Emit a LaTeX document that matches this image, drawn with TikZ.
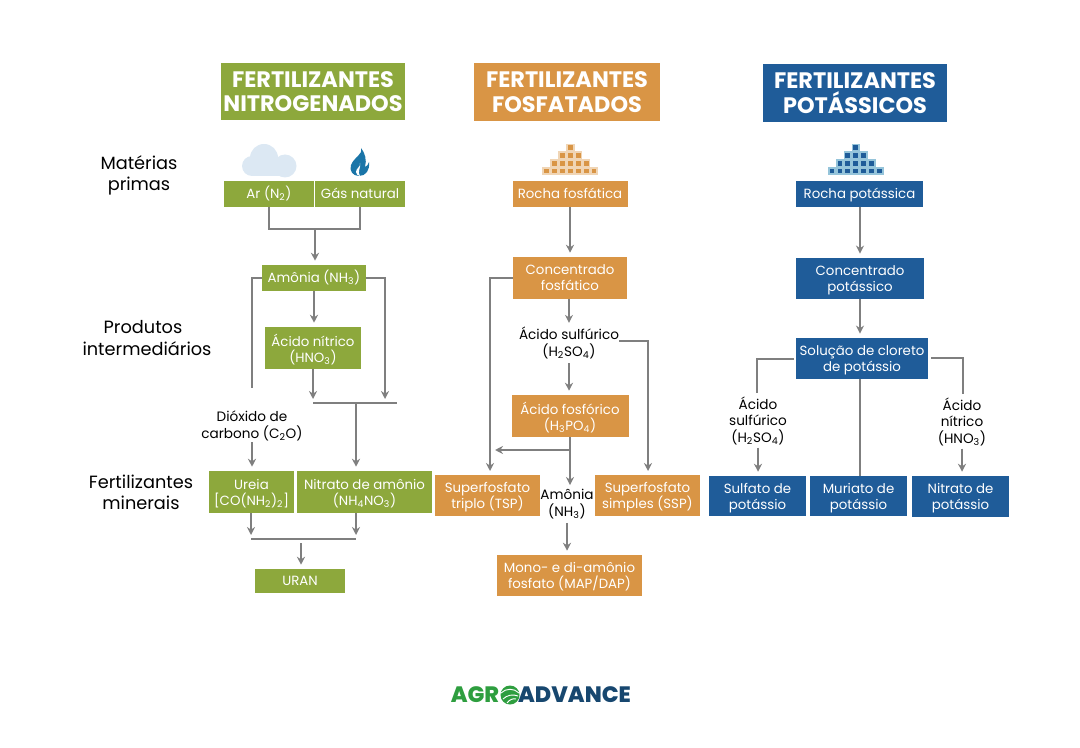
\documentclass[tikz,border=0pt]{standalone}
\usepackage{fontspec}
\setmainfont{Poppins}
\newfontfamily\logofont{Poppins ExtraBold}
\usetikzlibrary{arrows.meta}
\definecolor{verde}{HTML}{8DA83C}
\definecolor{laranja}{HTML}{D99545}
\definecolor{azul}{HTML}{1F5C99}
\definecolor{cinza}{HTML}{7F7F7F}
\definecolor{nuvem}{HTML}{DCE8F3}
\definecolor{logoverde}{HTML}{2E9E3F}
\definecolor{logoazul}{HTML}{17476F}
\newcommand{\low}[1]{\textsubscript{#1}}
\tikzset{
    caixa/.style={rectangle, inner sep=0pt, text=white, align=center, font=\fontsize{10}{12}\selectfont},
    simples/.style={caixa, text height=8.5pt, text depth=2pt},
    dupla/.style={caixa, text depth=0pt},
    titulo/.style={caixa, font=\fontsize{16.8}{18.4}\selectfont\bfseries},
    texto/.style={inner sep=0pt, align=center, text=black, font=\fontsize{10.2}{12.4}\selectfont},
    rotulo/.style={inner sep=0pt, align=center, text=black, font=\fontsize{13.3}{16}\selectfont},
    linha/.style={cinza, line width=1.25pt},
    seta/.style={linha, -{Stealth[length=6pt,width=6pt]}, shorten >=3pt}
}
\newcommand{\pilha}[3]{
    \foreach \r/\m in {0/3,1/2,2/1,3/0}
        \foreach \i in {-\m,...,\m} {
            \fill[#2] ({#1+7.9*\i-4.2},{171-7.7*\r-4.2}) rectangle ({#1+7.9*\i+4.2},{171-7.7*\r+4.2});
        }
    \foreach \r/\m in {0/3,1/2,2/1,3/0}
        \foreach \i in {-\m,...,\m} {
            \fill[#3] ({#1+7.9*\i-2.4},{171-7.7*\r-2.4}) rectangle ({#1+7.9*\i+2.4},{171-7.7*\r+2.4});
        }
}
\begin{document}
\begin{tikzpicture}[x=0.75pt,y=-0.75pt]
    \useasboundingbox (0,0) rectangle (1080,748);

    % titulos
    \node[titulo, fill=verde, minimum width=138pt, minimum height=43pt] (tituloN) at (313,91.5) {FERTILIZANTES\\NITROGENADOS};
    \node[titulo, fill=laranja, minimum width=139.5pt, minimum height=43.5pt] (tituloP) at (567,92) {FERTILIZANTES\\FOSFATADOS};
    \node[titulo, fill=azul, minimum width=138pt, minimum height=43.5pt] (tituloK) at (855,93) {FERTILIZANTES\\POTÁSSICOS};

    % rotulos
    \node[rotulo] (materias) at (139,175.5) {Matérias\\primas};
    \node[rotulo] (produtos) at (147,338) {Produtos\hspace*{6pt}\\intermediários};
    \node[rotulo] (minerais) at (141,492) {Fertilizantes\\minerais};

    % icones
    \fill[nuvem] (264,158) circle (14);
    \fill[nuvem] (252,166) circle (10);
    \fill[nuvem] (285,166) circle (11.5);
    \fill[nuvem] (252,165) rectangle (285,176.5);
    \fill[azul!85!cyan] (361,148) .. controls (363,155) and (354,157) .. (351,165) .. controls (349,171) and (353,176) .. (359,176) .. controls (366,176) and (370,170) .. (369,162) .. controls (368,165) and (367,166) .. (365,167) .. controls (367,160) and (365,153) .. (361,148) -- cycle;
    \fill[white] (360,163) .. controls (361,167) and (356,168) .. (356,172) .. controls (356,174) and (358,176) .. (360,176) .. controls (357,172) and (361,168) .. (360,163) -- cycle;
    \pilha{570.3}{laranja!40!white}{laranja}
    \pilha{855.7}{azul!40!white!90!cyan}{azul}

    % nitrogenados
    \node[simples, fill=verde, minimum width=67.5pt, minimum height=19.5pt] (ar) at (269,194) {Ar (N\low{2})};
    \node[simples, fill=verde, minimum width=67.5pt, minimum height=19.5pt] (gas) at (360,194) {Gás natural};
    \node[simples, fill=verde, minimum width=78pt, minimum height=19.5pt] (amonia) at (314,278) {Amônia (NH\low{3})};
    \node[dupla, fill=verde, minimum width=72pt, minimum height=31.5pt] (nitrico) at (313,348) {Ácido nítrico\\(HNO\low{3})};
    \node[texto] (dioxido) at (252,426) {Dióxido de\\carbono (C\low{2}O)};
    \node[dupla, fill=verde, minimum width=63.75pt, minimum height=31.5pt] (ureia) at (251.5,492) {Ureia\\{}[CO(NH\low{2})\low{2}]};
    \node[dupla, fill=verde, minimum width=101.25pt, minimum height=31.5pt] (nitrato) at (364.5,492) {Nitrato de amônio\\(NH\low{4}NO\low{3})};
    \node[simples, fill=verde, minimum width=67.5pt, minimum height=18pt] (uran) at (300,581) {URAN};
    \coordinate (juntaAr) at (315,229);
    \coordinate (fimCarbono) at (252,388);
    \coordinate (barraEsq) at (313,403);
    \coordinate (barraDir) at (397,403);
    \coordinate (barraMeio) at (356,403);
    \coordinate (ladoAmonia) at (385,403);
    \coordinate (baseEsq) at (251,539);
    \coordinate (baseDir) at (356,539);
    \coordinate (baseMeio) at (301,543);
    \draw[linha] (ar.south) -- (ar.south |- juntaAr) -- (gas.south |- juntaAr) -- (gas.south);
    \draw[seta] (juntaAr) -- (juntaAr |- amonia.north);
    \draw[seta] (amonia.south) -- (amonia.south |- nitrico.north);
    \draw[linha] (amonia.west) -| (fimCarbono);
    \draw[seta] (amonia.east) -| (ladoAmonia);
    \draw[seta] (nitrico.south) -- (barraEsq);
    \draw[linha] (barraEsq) -- (barraDir);
    \draw[seta] (barraMeio) -- (barraMeio |- nitrato.north);
    \draw[seta, shorten <=1pt] (dioxido.south) -- (dioxido.south |- ureia.north);
    \draw[seta] (baseEsq |- ureia.south) -- (baseEsq);
    \draw[seta] (baseDir |- nitrato.south) -- (baseDir);
    \draw[linha] (baseEsq) -- (baseDir);
    \draw[seta] (baseMeio) -- (baseMeio |- uran.north);

    % fosfatados
    \node[simples, fill=laranja, minimum width=86.25pt, minimum height=19.5pt] (rochaP) at (570,194) {Rocha fosfática};
    \node[dupla, fill=laranja, minimum width=85.5pt, minimum height=31.5pt] (concP) at (570,278) {Concentrado\\fosfático};
    \node[texto] (sulfP) at (569,343) {Ácido sulfúrico\\(H\low{2}SO\low{4})};
    \node[dupla, fill=laranja, minimum width=87.75pt, minimum height=31.5pt] (fosforico) at (570,416) {Ácido fosfórico\\(H\low{3}PO\low{4})};
    \node[dupla, fill=laranja, minimum width=78.75pt, minimum height=30.75pt] (tsp) at (487.5,495.5) {Superfosfato\\triplo (TSP)};
    \node[dupla, fill=laranja, minimum width=78.75pt, minimum height=30.75pt] (ssp) at (647.5,495.5) {Superfosfato\\simples (SSP)};
    \node[texto] (amoniaP) at (567,504) {Amônia\\(NH\low{3})};
    \node[dupla, fill=laranja, minimum width=108.75pt, minimum height=30.75pt] (map) at (569.5,575.5) {Mono- e di-amônio\\fosfato (MAP/DAP)};
    \coordinate (topoTsp) at (490,475);
    \coordinate (topoSsp) at (648,475);
    \coordinate (ramoIni) at (570,450);
    \coordinate (ramoFim) at (495,450);
    \draw[seta] (rochaP.south) -- (concP.north);
    \draw[seta] (concP.south -| sulfP.north) -- (sulfP.north);
    \draw[seta, shorten <=3pt] (sulfP.south) -- (sulfP.south |- fosforico.north);
    \draw[seta] (fosforico.south) -- (fosforico.south |- amoniaP.north);
    \draw[seta, shorten >=0pt] (ramoIni) -- (ramoFim);
    \draw[seta] (concP.west) -| (topoTsp);
    \draw[seta] ([yshift=1.5pt]sulfP.east) -| (topoSsp);
    \draw[seta, shorten <=3pt] (amoniaP.south) -- (amoniaP.south |- map.north);

    % potassicos
    \node[simples, fill=azul, minimum width=95.25pt, minimum height=19.5pt] (rochaK) at (859.5,194) {Rocha potássica};
    \node[dupla, fill=azul, minimum width=96pt, minimum height=31pt] (concK) at (860,278.5) {Concentrado\\potássico};
    \node[dupla, fill=azul, minimum width=99pt, minimum height=31pt] (solucao) at (862,358.5) {Solução de cloreto\\de potássio};
    \node[texto] (sulfK) at (758,420.5) {Ácido\\sulfúrico\\(H\low{2}SO\low{4})};
    \node[texto] (nitK) at (962,421.5) {Ácido\\nítrico\\(HNO\low{3})};
    \node[dupla, fill=azul, minimum width=72.75pt, minimum height=30pt] (sulfato) at (757.5,496) {Sulfato de\\potássio};
    \node[dupla, fill=azul, minimum width=72.75pt, minimum height=30pt] (muriato) at (858.5,496) {Muriato de\\potássio};
    \node[dupla, fill=azul, minimum width=72.75pt, minimum height=30.75pt] (nitratoK) at (960.5,496.5) {Nitrato de\\potássio};
    \coordinate (fimSulf) at (757,393);
    \coordinate (fimNit) at (963,394);
    \coordinate (saiMeio) at (860,379);
    \coordinate (saiEsq) at (794,359);
    \coordinate (saiDir) at (931,358);
    \draw[seta] (concK.north |- rochaK.south) -- (concK.north);
    \draw[seta] (concK.south) -- (concK.south |- solucao.north);
    \draw[linha] (saiEsq) -| (fimSulf);
    \draw[linha] (saiDir) -| (fimNit);
    \draw[linha] (saiMeio) -- (saiMeio |- muriato.north);
    \draw[seta, shorten <=2pt] (sulfK.south) -- (sulfK.south |- sulfato.north);
    \draw[seta, shorten <=2pt] (nitK.south) -- (nitK.south |- nitratoK.north);

    % logo
    \node[inner sep=0pt, text=logoverde, font=\logofont\fontsize{16.7}{17}\selectfont] (logoA) at (475,695) {AGR};
    \node[inner sep=0pt, text=logoazul, font=\logofont\fontsize{16.7}{17}\selectfont] (logoB) at (574.5,695) {ADVANCE};
    \fill[logoverde] (510,695) circle (9.5);
    \draw[white, line width=0.7pt] (501,693) .. controls (506,688) and (514,688) .. (519,693);
    \draw[white, line width=0.7pt] (503,699) .. controls (507,695) and (513,694) .. (518,696);
    \draw[white, line width=0.7pt] (507,703) .. controls (509,700) and (513,698) .. (516,699);
\end{tikzpicture}
\end{document}
